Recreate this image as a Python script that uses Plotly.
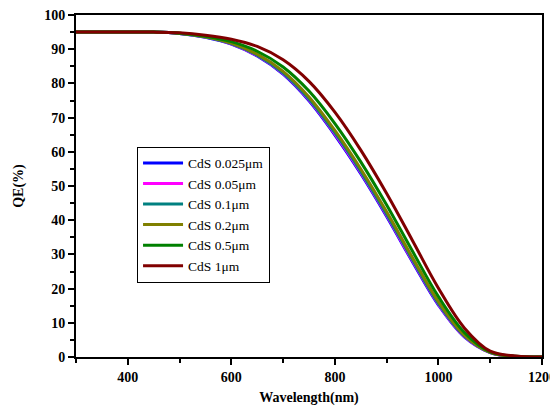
import plotly.graph_objects as go

wavelength = [300, 350, 400, 450, 500, 550, 600, 650, 700, 750, 800, 850, 900, 950, 1000, 1050, 1100, 1150, 1200]

qe_0025 = [95, 95, 95, 95, 94.6, 93.5, 91.5, 88.0, 82.7, 74.9, 64.9, 53.6, 41.1, 27.8, 15.2, 5.9, 1.3, 0.1, 0]
qe_005 = [95, 95, 95, 95, 94.61, 93.53, 91.57, 88.14, 82.91, 75.19, 65.24, 53.95, 41.44, 28.11, 15.45, 6.03, 1.32, 0.11, 0]
qe_01 = [95, 95, 95, 95, 94.62, 93.56, 91.64, 88.28, 83.12, 75.47, 65.57, 54.29, 41.77, 28.42, 15.69, 6.16, 1.34, 0.12, 0]
qe_02 = [95, 95, 95, 95, 94.64, 93.62, 91.78, 88.56, 83.54, 76.04, 66.24, 54.98, 42.44, 29.04, 16.18, 6.42, 1.38, 0.14, 0]
qe_05 = [95, 95, 95, 95, 94.7, 93.8, 92.2, 89.4, 84.8, 77.75, 68.25, 57.05, 44.45, 30.9, 17.65, 7.2, 1.5, 0.2, 0]
qe_1 = [95, 95, 95, 95, 94.8, 94.1, 92.9, 90.8, 86.9, 80.6, 71.6, 60.5, 47.8, 34.0, 20.1, 8.5, 1.7, 0.3, 0]

series_names = ["CdS 0.025μm", "CdS 0.05μm", "CdS 0.1μm", "CdS 0.2μm", "CdS 0.5μm", "CdS 1μm"]
series_values = [qe_0025, qe_005, qe_01, qe_02, qe_05, qe_1]
series_colors = ["#0000ff", "#ff00ff", "#008080", "#808000", "#008000", "#800000"]

FONT = "Liberation Serif, Times New Roman, serif"

fig = go.Figure()
for name, vals, col in zip(series_names, series_values, series_colors):
    fig.add_trace(go.Scatter(
        x=wavelength, y=vals, name=name, mode="lines",
        line=dict(color=col, width=3, shape="spline", smoothing=1.0),
    ))

# page body has an 8px default margin, so the figure is offset by (8, 8)
fig.update_layout(
    width=550, height=398,
    margin=dict(l=68, r=16, t=7, b=49),
    paper_bgcolor="white", plot_bgcolor="white",
    font=dict(family=FONT, color="black"),
    showlegend=True,
    legend=dict(
        x=0.131, y=0.615, xanchor="left", yanchor="top",
        bordercolor="black", borderwidth=1, bgcolor="white",
        font=dict(family=FONT, size=13.5, color="black"),
        tracegroupgap=0, itemwidth=40,
    ),
)

fig.update_xaxes(
    range=[300, 1200], tickvals=[400, 600, 800, 1000, 1200],
    ticks="outside", ticklen=6, tickwidth=1.5, tickcolor="black",
    minor=dict(tickvals=[300, 500, 700, 900, 1100], ticks="outside", ticklen=4, tickwidth=1.5, tickcolor="black"),
    showline=True, linecolor="black", linewidth=2, mirror=True,
    showgrid=False, zeroline=False, automargin=False, ticklabeloverflow="allow",
    tickfont=dict(family=FONT, size=14, weight="bold"),
    title=dict(text="Wavelength(nm)", font=dict(family=FONT, size=14, weight="bold"), standoff=9),
)
fig.update_yaxes(
    range=[0, 100], dtick=10, tick0=0,
    ticks="outside", ticklen=6, tickwidth=1.5, tickcolor="black",
    minor=dict(dtick=5, ticks="outside", ticklen=4, tickwidth=1.5, tickcolor="black"),
    showline=True, linecolor="black", linewidth=2, mirror=True,
    showgrid=False, zeroline=False, automargin=False, ticklabeloverflow="allow",
    tickfont=dict(family=FONT, size=14, weight="bold"),
    title=dict(text="QE(%)", font=dict(family=FONT, size=14, weight="bold"), standoff=17),
)

fig.write_html("out.html")
